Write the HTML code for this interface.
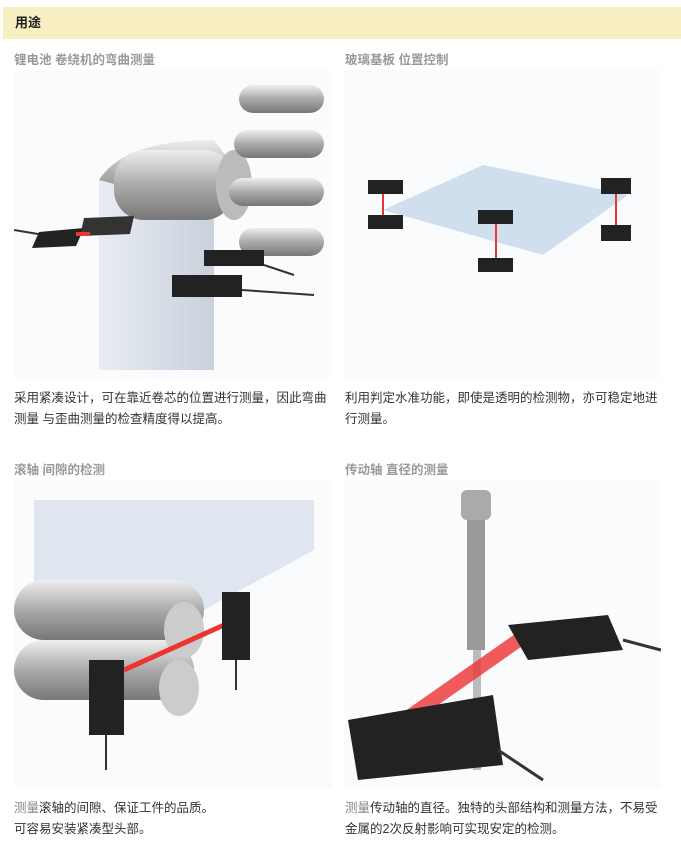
<!DOCTYPE html>
<html><head><meta charset="utf-8"><style>
body{margin:0;width:681px;height:842px;background:#fff;position:relative;overflow:hidden;font-family:"Liberation Sans","Noto Sans CJK SC",sans-serif}
.hd{position:absolute;left:3px;top:7px;width:678px;height:32px;background:#f8f0c2;font-size:13px;font-weight:bold;color:#222;line-height:32px;padding-left:12px;box-sizing:border-box}
.t{position:absolute;font-size:12.5px;font-weight:bold;color:#999}
.p{position:absolute;font-size:12.5px;color:#333;line-height:21px}
.img{position:absolute;background:#fafbfd}
</style></head><body>
<div class="hd">用途</div>
<div class="t" style="left:14px;top:49px">锂电池 卷绕机的弯曲测量</div>
<div class="t" style="left:345px;top:49px">玻璃基板 位置控制</div>
<svg class="img" style="left:14px;top:70px" width="318" height="308">
<defs><linearGradient id="g" x1="0" y1="0" x2="0" y2="1"><stop offset="0" stop-color="#eee"/><stop offset=".5" stop-color="#aaa"/><stop offset="1" stop-color="#777"/></linearGradient>
<linearGradient id="w" x1="0" x2="1"><stop offset="0" stop-color="#e8ecf2"/><stop offset="1" stop-color="#c9d1dc"/></linearGradient></defs>
<path d="M85 110 L200 90 L200 300 L85 300Z" fill="url(#w)"/>
<path d="M85 110 Q110 70 200 70 L230 110 L200 140Z" fill="url(#g)"/>
<rect x="100" y="80" width="120" height="70" rx="30" fill="url(#g)"/>
<ellipse cx="220" cy="115" rx="18" ry="35" fill="#bbb"/>
<g fill="url(#g)"><rect x="225" y="15" width="85" height="28" rx="14"/><rect x="220" y="60" width="90" height="28" rx="14"/><rect x="215" y="108" width="95" height="28" rx="14"/><rect x="225" y="158" width="85" height="28" rx="14"/></g>
<path d="M0 160 L30 165" stroke="#333" stroke-width="2"/>
<polygon points="25,162 70,158 62,176 18,178" fill="#222"/>
<polygon points="70,148 120,146 116,164 66,166" fill="#333"/>
<rect x="62" y="162" width="14" height="4" fill="#e33"/>
<rect x="190" y="180" width="60" height="16" fill="#222"/>
<rect x="158" y="205" width="70" height="22" fill="#222"/>
<path d="M250 195 L280 205 M228 220 L300 225" stroke="#333" stroke-width="2"/>
</svg>
<svg class="img" style="left:343px;top:70px" width="318" height="308">
<path d="M40 140 L140 95 L285 125 L200 185Z" fill="#c6d8ea" opacity=".8"/>
<g fill="#222"><rect x="25" y="110" width="35" height="14"/><rect x="25" y="145" width="35" height="14"/><rect x="135" y="140" width="35" height="14"/><rect x="135" y="188" width="35" height="14"/><rect x="258" y="108" width="30" height="16"/><rect x="258" y="155" width="30" height="16"/></g>
<g stroke="#e33" stroke-width="2"><path d="M40 124 V145 M153 154 V188 M273 124 V155"/></g>
</svg>
<div class="p" style="left:14px;top:388px;width:320px">采用紧凑设计，可在靠近卷芯的位置进行测量，因此弯曲<br>测量 与歪曲测量的检查精度得以提高。</div>
<div class="p" style="left:345px;top:388px;width:320px">利用判定水准功能，即使是透明的检测物，亦可稳定地进<br>行测量。</div>
<div class="t" style="left:14px;top:459px">滚轴 间隙的检测</div>
<div class="t" style="left:345px;top:459px">传动轴 直径的测量</div>
<svg class="img" style="left:14px;top:480px" width="318" height="308">
<path d="M20 20 L300 20 L300 70 L190 130 L20 140Z" fill="#dfe6ef"/>
<g fill="url(#g)"><rect x="0" y="100" width="190" height="60" rx="30"/><rect x="0" y="160" width="180" height="60" rx="30"/></g>
<ellipse cx="170" cy="150" rx="20" ry="28" fill="#ccc"/><ellipse cx="165" cy="208" rx="20" ry="28" fill="#ccc"/>
<path d="M110 190 L210 145" stroke="#e33" stroke-width="5"/>
<rect x="75" y="180" width="35" height="75" fill="#222"/>
<rect x="208" y="112" width="28" height="68" fill="#222"/>
<path d="M92 255 V290 M222 180 V210" stroke="#333" stroke-width="2"/>
</svg>
<svg class="img" style="left:343px;top:480px" width="318" height="308">
<rect x="118" y="10" width="30" height="30" rx="6" fill="#aaa"/>
<rect x="124" y="40" width="18" height="130" fill="#999"/>
<rect x="130" y="170" width="8" height="120" fill="#bbb"/>
<path d="M40 255 L190 150" stroke="#e33" stroke-width="14" opacity=".8"/>
<path d="M165 145 L265 135 L280 170 L185 180Z" fill="#222"/>
<path d="M5 240 L150 215 L160 285 L15 300Z" fill="#222"/>
<path d="M280 160 L318 170 M155 270 L200 300" stroke="#333" stroke-width="3"/>
</svg>
<div class="p" style="left:14px;top:798px;width:320px"><span style="color:#888">测量</span>滚轴的间隙、保证工件的品质。<br>可容易安装紧凑型头部。</div>
<div class="p" style="left:345px;top:798px;width:330px"><span style="color:#888">测量</span>传动轴的直径。独特的头部结构和测量方法，不易受<br>金属的2次反射影响可实现安定的检测。</div>
</body></html>
